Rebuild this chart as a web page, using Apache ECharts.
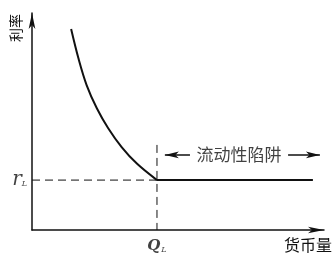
<!DOCTYPE html>
<html>
<head>
<meta charset="utf-8">
<script src="https://cdn.jsdelivr.net/npm/echarts@6/dist/echarts.min.js"></script>
<style>
html,body{margin:0;padding:0;background:#fff;}
#c{width:335px;height:259px;}
</style>
</head>
<body>
<div id="c"></div>
<script>
// ---- data (axes run 0..100 in both directions) ----
const xRange = [0, 100];
const yRange = [0, 100];
// liquidity-preference curve (money demand)
const curveX = [13.4, 15.9, 18.7, 22.2, 26.1, 30.7, 35.9, 42.8];
const curveY = [92.6, 79.1, 66.8, 56.1, 46.9, 38.2, 30.6, 23.0];
// liquidity-trap level
const rL = 23.0;
const QL = 42.8;
const trapEndX = 96.2;
// annotation "流动性陷阱" with arrows
const annY = 34.6;
const annLeftArrowX = [54.1, 45.5];   // from -> to (points left)
const annRightArrowX = [87.7, 98.6];  // from -> to (points right)
const annTextX = 70.9;
const qlDashTopY = 39.2;
// texts
const axisNameY = '利率';
const axisNameX = '货币量';
const trapLabel = '流动性陷阱';
const rLabel = ['r', 'L'];
const qLabel = ['Q', 'L'];

const ink = '#111';
const cjk = '"Noto Sans CJK SC", sans-serif';

const chart = echarts.init(document.getElementById('c'), null, {renderer: 'canvas'});
chart.setOption({
  animation: false,
  backgroundColor: '#fff',
  grid: {left: 32, right: 11, top: 13, bottom: 29, containLabel: false},
  xAxis: {
    type: 'value', min: xRange[0], max: xRange[1],
    axisLine: {show: true, symbol: ['none', 'arrow'], symbolSize: [5, 16], lineStyle: {color: ink, width: 1.5}},
    axisTick: {show: false}, axisLabel: {show: false}, splitLine: {show: false},
    name: axisNameX, nameLocation: 'end', nameGap: 8,
    nameTextStyle: {fontFamily: cjk, fontSize: 16, color: '#111', align: 'right', verticalAlign: 'top', padding: [7, 0, 0, 0]}
  },
  yAxis: {
    type: 'value', min: yRange[0], max: yRange[1],
    axisLine: {show: true, symbol: ['none', 'arrow'], symbolSize: [5, 16], lineStyle: {color: ink, width: 1.5}},
    axisTick: {show: false}, axisLabel: {show: false}, splitLine: {show: false}
  },
  graphic: [{
    type: 'text', x: 16, y: 28, rotation: Math.PI / 2,
    style: {text: axisNameY, font: '14px ' + cjk, fill: '#111', align: 'center', verticalAlign: 'middle'}
  }],
  series: [
    {
      type: 'line', silent: true, symbol: 'none', smooth: 0.35,
      lineStyle: {color: ink, width: 2},
      data: curveX.map((x, i) => [x, curveY[i]])
    },
    {
      type: 'line', silent: true, symbol: 'none',
      lineStyle: {color: ink, width: 2},
      data: [[QL, rL], [trapEndX, rL]]
    },
    {
      type: 'line', silent: true, symbol: 'none',
      lineStyle: {color: ink, width: 1, type: [8, 5]},
      data: [[xRange[0], rL], [QL, rL]]
    },
    {
      type: 'line', silent: true, symbol: 'none',
      lineStyle: {color: ink, width: 1, type: [8, 5]},
      data: [[QL, qlDashTopY], [QL, yRange[0]]]
    },
    {
      type: 'line', silent: true, symbol: 'none', data: [],
      markLine: {
        silent: true, symbol: ['none', 'arrow'], label: {show: false},
        lineStyle: {color: ink, width: 1.5, type: 'solid'},
        emphasis: {disabled: true},
        data: [
          [{coord: [annLeftArrowX[0], annY]}, {coord: [annLeftArrowX[1], annY], symbolSize: [5, 14]}],
          [{coord: [annRightArrowX[0], annY]}, {coord: [annRightArrowX[1], annY], symbolSize: [5, 14]}]
        ]
      }
    },
    {
      type: 'scatter', silent: true, symbolSize: 0,
      data: [[annTextX, annY]],
      label: {show: true, position: 'inside', formatter: trapLabel, fontFamily: cjk, fontSize: 17, color: '#111'}
    },
    {
      type: 'scatter', silent: true, symbolSize: 0,
      data: [[xRange[0], rL]],
      label: {
        show: true, position: 'left', distance: 5,
        formatter: '{r|' + rLabel[0] + '}{s|' + rLabel[1] + '}',
        rich: {
          r: {fontFamily: '"DejaVu Serif", serif', fontStyle: 'italic', fontSize: 20, color: '#111'},
          s: {fontFamily: '"DejaVu Serif", serif', fontStyle: 'italic', fontSize: 8, color: '#111', padding: [8, 0, 0, 0]}
        }
      }
    },
    {
      type: 'scatter', silent: true, symbolSize: 0,
      data: [[QL, yRange[0]]],
      label: {
        show: true, position: 'bottom', distance: 9,
        formatter: '{q|' + qLabel[0] + '}{s|' + qLabel[1] + '}',
        rich: {
          q: {fontFamily: '"DejaVu Serif", serif', fontStyle: 'italic', fontWeight: 'bold', fontSize: 15, color: '#111'},
          s: {fontFamily: '"DejaVu Serif", serif', fontStyle: 'italic', fontSize: 8, color: '#111', padding: [6, 0, 0, 1]}
        }
      }
    }
  ]
});
</script>
</body>
</html>
